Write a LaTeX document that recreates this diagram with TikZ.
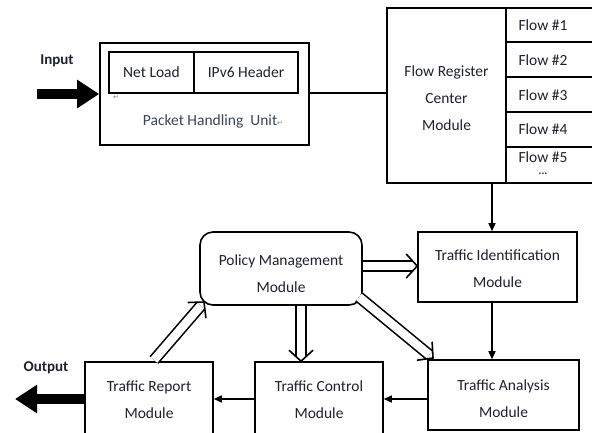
\documentclass[tikz,border=0pt]{standalone}
\usepackage{fontspec}
\setmainfont{Carlito}
\newfontfamily\dejavu{DejaVu Sans}
\usetikzlibrary{arrows.meta,calc}
\definecolor{txt}{RGB}{30,34,48}
\definecolor{txtb}{RGB}{55,70,90}
\newcommand{\myharrow}[2]{%
  \draw[line width=1.6pt, double=white, double distance=8.5pt, shorten >=5pt] (#1) -- (#2);
  \draw[line width=1.6pt, line join=miter]
    ($(#2)!11pt!(#1)!12pt!90:(#1)$) -- (#2) -- ($(#2)!11pt!(#1)!12pt!-90:(#1)$);}
\begin{document}
\begin{tikzpicture}[x=1pt,y=-1pt,
  font=\fontsize{15.5}{27}\selectfont,
  box/.style={draw, line width=1.6pt, inner sep=0pt},
  lbl/.style={text=txt, align=center, inner sep=0pt},
  conn/.style={line width=1.5pt, -{Triangle[length=8pt,width=7pt]}},
  bigarrow/.style={line width=10pt, -{Triangle[length=22pt,width=27pt]}},
  ret/.style={text=gray, font=\dejavu\fontsize{7}{7}\selectfont, inner sep=0pt}]
\clip (0,0) rectangle (592,432);
\fill[white] (0,0) rectangle (592,432);

% Packet handling unit
\node[box, minimum width=209pt, minimum height=102pt] (P) at (204.5,94) {};
\node[box, minimum width=85pt, minimum height=41pt, text=txt] (NL) at (151.5,72.5) {Net Load};
\node[box, minimum width=104pt, minimum height=41pt, text=txt] (IH) at (246,72.5) {IPv6 Header};
\node[lbl, text=txtb] (PU) at (213,121) {Packet Handling\ \ Unit{\dejavu\fontsize{7}{7}\selectfont\color{gray}↵}};
\node[ret] (r1) at (116,97) {↵};

% Input
\node[lbl, font=\fontsize{15}{18}\selectfont\bfseries] (IN) at (57,61) {Input};
\coordinate (inS) at (37,94);
\draw[bigarrow] (inS) -- (P.west);

% Flow register center
\node[box, minimum width=119pt, minimum height=175pt] (FR) at (446.5,95.5) {};
\node[lbl] (FRt) at (446.5,98) {Flow Register\\Center\\Module};
\draw[line width=1.6pt] (P.east |- 0,93) -- (FR.west |- 0,93);

\foreach \ya/\yb in {8/42,42/77,77/112,112/147,147/183}
  \draw[line width=1.6pt] (506,\ya) rectangle (600,\yb);
\node[lbl] (F1) at (543,25) {Flow \#1};
\node[lbl] (F2) at (543,60) {Flow \#2};
\node[lbl] (F3) at (543,95) {Flow \#3};
\node[lbl] (F4) at (543,129.5) {Flow \#4};
\node[lbl, text depth=0pt] (F5) at (543,157) {Flow \#5};
\node[lbl, font=\fontsize{11}{11}\selectfont\bfseries, text height=1.5pt, text depth=0pt] (F6) at (543,174) {...};

% Modules
\node[box, minimum width=159pt, minimum height=70pt] (TI) at (497.5,267) {};
\node[lbl] (TIt) at (497.5,269) {Traffic Identification\\Module};

\node[box, rounded corners=13pt, minimum width=162pt, minimum height=73pt] (PM) at (281,268.5) {};
\node[lbl] (PMt) at (281,273.5) {Policy Management\\Module};

\node[box, minimum width=151pt, minimum height=70pt] (TA) at (503.5,395) {};
\node[lbl] (TAt) at (503.5,398.5) {Traffic Analysis\\Module};

\node[box, minimum width=128pt, minimum height=76pt] (TC) at (319,400) {};
\node[lbl] (TCt) at (319,400) {Traffic Control\\Module};

\node[box, minimum width=128pt, minimum height=76pt] (TR) at (149,400) {};
\node[lbl] (TRt) at (149,400) {Traffic Report\\Module};

% Output
\node[lbl, font=\fontsize{15}{18}\selectfont\bfseries] (OUT) at (46,368) {Output};
\coordinate (outE) at (15,399);
\draw[bigarrow] (TR.west |- outE) -- (outE);

% plain connectors
\draw[conn] (FR.south -| 492,0) -- (TI.north -| 492,0);
\draw[conn] (TI.south -| 492,0) -- (TA.north -| 492,0);
\draw[conn] (TA.west |- 0,399) -- (TC.east |- 0,399);
\draw[conn] (TC.west |- 0,399) -- (TR.east |- 0,399);

% hollow arrows
\coordinate (a1s) at (PM.east |- 0,266);
\coordinate (a1e) at (TI.west |- 0,266);
\myharrow{a1s}{a1e}
\coordinate (a2s) at (PM.south -| 301,0);
\coordinate (a2e) at (TC.north -| 301,0);
\myharrow{a2s}{a2e}
\coordinate (pmc) at (359,297);
\coordinate (tac) at (433,358);
\myharrow{pmc}{tac}
\coordinate (trt) at (154,360);
\coordinate (pmb) at (204,302);
\myharrow{trt}{pmb}
\end{tikzpicture}
\end{document}
